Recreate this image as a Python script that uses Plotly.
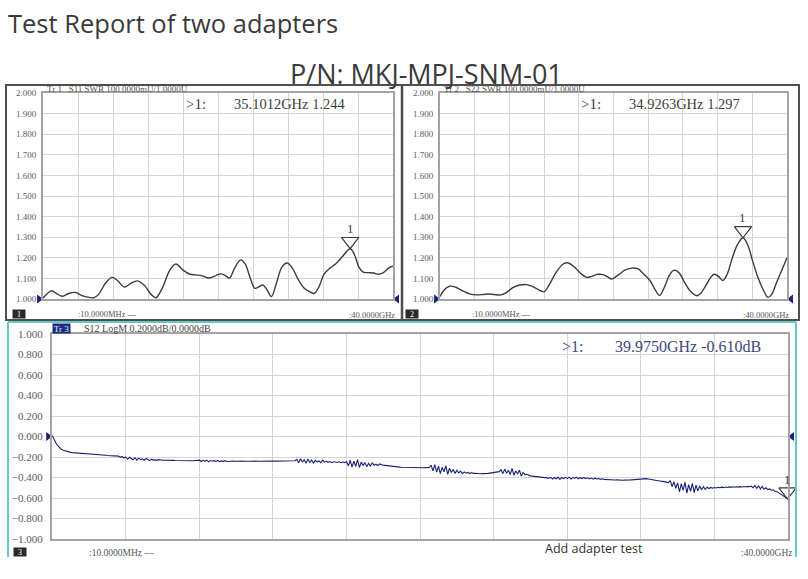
import numpy as np
import plotly.graph_objects as go

W, H = 808, 579

# ---------------- data ----------------
# Tr 1 : S11 SWR
s11_freq_ghz = [0.01, 0.6, 1.0, 1.6, 2.2, 3.0, 3.7, 4.4, 5.0, 5.8, 6.3, 7.2, 7.9, 8.5, 9.3, 10.0,
                10.8, 11.6, 12.4, 12.9, 13.6, 14.5, 15.2, 16.0, 16.8, 17.5, 18.2, 19.0, 19.8, 20.3,
                20.8, 21.3, 21.9, 22.6, 23.1, 23.7, 24.2, 24.7, 25.1, 25.6, 26.1, 26.7, 27.3, 27.9,
                28.5, 29.1, 29.8, 30.5, 31.0, 31.6, 32.1, 32.8, 33.5, 34.3, 35.1, 35.6, 36.1, 36.6,
                37.2, 37.8, 38.3, 38.9, 39.5, 40.0]
s11_swr = [1.005, 1.030, 1.040, 1.025, 1.013, 1.028, 1.032, 1.018, 1.010, 1.006, 1.020, 1.080,
           1.105, 1.090, 1.058, 1.075, 1.088, 1.065, 1.020, 1.006, 1.050, 1.140, 1.170, 1.140,
           1.120, 1.117, 1.112, 1.102, 1.115, 1.122, 1.115, 1.102, 1.150, 1.190, 1.170, 1.100,
           1.052, 1.060, 1.068, 1.045, 1.012, 1.080, 1.155, 1.175, 1.150, 1.100, 1.055, 1.035,
           1.027, 1.065, 1.120, 1.150, 1.172, 1.210, 1.244, 1.215, 1.155, 1.130, 1.128, 1.126,
           1.120, 1.128, 1.150, 1.160]

# Tr 2 : S22 SWR
s22_freq_ghz = [0.01, 0.5, 1.1, 1.8, 2.6, 3.4, 4.2, 5.0, 5.6, 6.2, 7.0, 7.6, 8.4, 9.2, 10.0, 10.8,
                11.6, 12.0, 12.6, 13.4, 14.2, 14.8, 15.5, 16.2, 16.9, 17.5, 18.2, 18.8, 19.4, 19.8,
                20.5, 21.3, 22.1, 22.8, 23.5, 24.2, 24.8, 25.3, 25.9, 26.5, 27.0, 27.6, 28.2, 28.9,
                29.6, 30.1, 30.7, 31.3, 31.6, 32.1, 32.6, 33.1, 33.7, 34.3, 34.93, 35.5, 36.0, 36.6,
                37.2, 37.8, 38.2, 38.8, 39.4, 40.0]
s22_swr = [1.012, 1.045, 1.062, 1.057, 1.040, 1.025, 1.020, 1.022, 1.024, 1.022, 1.020, 1.030,
           1.055, 1.068, 1.070, 1.058, 1.040, 1.035, 1.070, 1.130, 1.170, 1.175, 1.155, 1.125,
           1.105, 1.110, 1.120, 1.118, 1.105, 1.097, 1.115, 1.140, 1.150, 1.147, 1.120, 1.090,
           1.045, 1.017, 1.060, 1.120, 1.140, 1.125, 1.080, 1.036, 1.016, 1.030, 1.070, 1.110,
           1.120, 1.110, 1.090, 1.120, 1.200, 1.265, 1.297, 1.260, 1.190, 1.110, 1.050, 1.008,
           1.020, 1.080, 1.140, 1.200]

# Tr 3 : S12 LogM (dB), sweep 10 MHz .. 40 GHz, 401 points
s12_start_ghz = 0.01
s12_stop_ghz = 40.0
s12_db = [
    0.010, -0.030, -0.062, -0.090, -0.110, -0.124, -0.134, -0.141, -0.147, -0.151,
    -0.155, -0.157, -0.158, -0.160, -0.161, -0.163, -0.164, -0.165, -0.166, -0.168,
    -0.170, -0.171, -0.173, -0.174, -0.176, -0.177, -0.179, -0.180, -0.182, -0.183,
    -0.185, -0.187, -0.188, -0.190, -0.192, -0.196, -0.191, -0.203, -0.194, -0.210,
    -0.199, -0.222, -0.203, -0.214, -0.226, -0.207, -0.230, -0.212, -0.224, -0.219,
    -0.232, -0.215, -0.227, -0.236, -0.221, -0.230, -0.228, -0.233, -0.226, -0.231,
    -0.231, -0.232, -0.231, -0.233, -0.232, -0.234, -0.233, -0.234, -0.235, -0.234,
    -0.235, -0.234, -0.236, -0.235, -0.236, -0.235, -0.237, -0.236, -0.236, -0.237,
    -0.231, -0.244, -0.233, -0.242, -0.230, -0.246, -0.235, -0.241, -0.236, -0.243,
    -0.234, -0.245, -0.238, -0.242, -0.236, -0.244, -0.239, -0.241, -0.240, -0.242,
    -0.240, -0.241, -0.240, -0.242, -0.241, -0.240, -0.241, -0.242, -0.240, -0.241,
    -0.241, -0.240, -0.241, -0.240, -0.242, -0.241, -0.240, -0.241, -0.240, -0.240,
    -0.239, -0.240, -0.239, -0.238, -0.239, -0.238, -0.239, -0.238, -0.237, -0.238,
    -0.238, -0.237, -0.236, -0.222, -0.255, -0.218, -0.248, -0.226, -0.262, -0.220,
    -0.251, -0.229, -0.258, -0.233, -0.247, -0.238, -0.256, -0.231, -0.250, -0.242,
    -0.252, -0.244, -0.255, -0.246, -0.250, -0.253, -0.247, -0.256, -0.249, -0.255,
    -0.245, -0.286, -0.232, -0.298, -0.241, -0.290, -0.226, -0.302, -0.250, -0.284,
    -0.255, -0.296, -0.262, -0.288, -0.258, -0.280, -0.270, -0.283, -0.268, -0.278,
    -0.280, -0.282, -0.285, -0.287, -0.289, -0.292, -0.294, -0.296, -0.298, -0.299,
    -0.300, -0.301, -0.302, -0.303, -0.303, -0.304, -0.305, -0.305, -0.306, -0.306,
    -0.305, -0.306, -0.305, -0.304, -0.306, -0.303, -0.280, -0.335, -0.275, -0.348,
    -0.290, -0.362, -0.300, -0.345, -0.285, -0.370, -0.310, -0.352, -0.322, -0.360,
    -0.330, -0.356, -0.338, -0.362, -0.345, -0.358, -0.350, -0.361, -0.352, -0.360,
    -0.358, -0.362, -0.360, -0.364, -0.362, -0.363, -0.361, -0.360, -0.357, -0.354,
    -0.350, -0.348, -0.345, -0.343, -0.325, -0.362, -0.318, -0.358, -0.330, -0.372,
    -0.310, -0.378, -0.335, -0.366, -0.328, -0.385, -0.350, -0.372, -0.368, -0.380,
    -0.384, -0.387, -0.390, -0.392, -0.395, -0.397, -0.399, -0.401, -0.403, -0.404,
    -0.406, -0.398, -0.415, -0.400, -0.412, -0.396, -0.418, -0.402, -0.410, -0.399,
    -0.411, -0.397, -0.414, -0.401, -0.409, -0.396, -0.413, -0.402, -0.410, -0.400,
    -0.412, -0.403, -0.414, -0.405, -0.416, -0.407, -0.415, -0.410, -0.418, -0.412,
    -0.418, -0.420, -0.421, -0.423, -0.422, -0.424, -0.425, -0.423, -0.426, -0.425,
    -0.427, -0.426, -0.428, -0.427, -0.425, -0.423, -0.421, -0.419, -0.416, -0.414,
    -0.412, -0.410, -0.409, -0.411, -0.414, -0.418, -0.421, -0.425, -0.428, -0.431,
    -0.434, -0.436, -0.438, -0.442, -0.446, -0.450, -0.430, -0.488, -0.442, -0.505,
    -0.452, -0.540, -0.460, -0.525, -0.445, -0.552, -0.470, -0.535, -0.458, -0.548,
    -0.475, -0.530, -0.482, -0.520, -0.490, -0.515, -0.495, -0.508, -0.497, -0.505,
    -0.498, -0.502, -0.496, -0.500, -0.494, -0.499, -0.493, -0.497, -0.492, -0.496,
    -0.491, -0.495, -0.490, -0.494, -0.489, -0.493, -0.488, -0.492, -0.487, -0.490,
    -0.484, -0.500, -0.478, -0.505, -0.482, -0.510, -0.488, -0.515, -0.500, -0.518,
    -0.512, -0.524, -0.520, -0.535, -0.538, -0.550, -0.556, -0.570, -0.578, -0.595,
    -0.610]
s12_freq_ghz = np.linspace(s12_start_ghz, s12_stop_ghz, len(s12_db))

# markers (frequency GHz, value)
marker1 = (35.1012, 1.244)
marker2 = (34.9263, 1.297)
marker3 = (39.9750, -0.610)
marker1_text = "35.1012GHz 1.244"
marker2_text = "34.9263GHz 1.297"
marker3_text = "39.9750GHz -0.610dB"

# ---------------- helpers for layout (pixel -> paper) ----------------
def px(x):
    return x / W

def py(y):
    return 1 - y / H

SERIF = "Liberation Serif"
GRID = "#d5d5d5"
FRAME = "#a3a3a3"
TRACE_GRAY = "#3c3c3c"
NAVY = "#1a2278"

fig = go.Figure()

fig.add_trace(go.Scatter(x=s11_freq_ghz, y=s11_swr, mode="lines", xaxis="x", yaxis="y",
                         line=dict(color=TRACE_GRAY, width=1.4, shape="spline", smoothing=1.0)))
fig.add_trace(go.Scatter(x=s22_freq_ghz, y=s22_swr, mode="lines", xaxis="x2", yaxis="y2",
                         line=dict(color=TRACE_GRAY, width=1.4, shape="spline", smoothing=1.0)))
fig.add_trace(go.Scatter(x=s12_freq_ghz, y=s12_db, mode="lines", xaxis="x3", yaxis="y3",
                         line=dict(color=NAVY, width=1.1)))

# marker triangles: downward-pointing, tip on the data point (standoff pushes them up)
for (mx, my), xa, ya in [(marker1, "x", "y"), (marker2, "x2", "y2"), (marker3, "x3", "y3")]:
    fig.add_trace(go.Scatter(x=[mx], y=[my], mode="markers", xaxis=xa, yaxis=ya, cliponaxis=False,
                             marker=dict(symbol="triangle-up-open", size=15, angle=180, standoff=7.5,
                                         color="#3a3a3a", line=dict(width=1.2, color="#3a3a3a"))))

# edge reference arrows (left: pointing right, right: pointing left, both outside the grid)
ref_sets = [("x", "y", 0.01, 40.0, 1.0), ("x2", "y2", 0.01, 40.0, 1.0), ("x3", "y3", 0.01, 40.0, 0.0)]
for xa, ya, f0, f1, ref in ref_sets:
    fig.add_trace(go.Scatter(x=[f0], y=[ref], mode="markers", xaxis=xa, yaxis=ya, cliponaxis=False,
                             marker=dict(symbol="triangle-up", size=8, angle=90, standoff=4,
                                         color=NAVY)))
    fig.add_trace(go.Scatter(x=[f1], y=[ref], mode="markers", xaxis=xa, yaxis=ya, cliponaxis=False,
                             marker=dict(symbol="triangle-up", size=8, angle=270, standoff=4,
                                         color=NAVY)))

def xaxis_cfg(x0, x1, anchor):
    return dict(domain=[px(x0), px(x1)], range=[0, 40], dtick=4, tick0=0, anchor=anchor,
                showgrid=True, gridcolor=GRID, gridwidth=1, zeroline=False,
                showticklabels=False, ticks="", showline=True, mirror=True,
                linecolor=FRAME, linewidth=2, fixedrange=True, automargin=False)

def yaxis_cfg(y0, y1, rng, dt, anchor, fsize, standoff):
    return dict(domain=[py(y1), py(y0)], range=rng, dtick=dt, tick0=0, anchor=anchor,
                showgrid=True, gridcolor=GRID, gridwidth=1, zeroline=False,
                tickformat=".3f", ticks="", ticklabelstandoff=standoff,
                tickfont=dict(family=SERIF, size=fsize, color="#5a5a5a"),
                showline=True, mirror=True, linecolor=FRAME, linewidth=2, fixedrange=True,
                automargin=False)

layout = dict(
    width=W, height=H, margin=dict(l=0, r=0, t=0, b=0, pad=0),
    paper_bgcolor="white", plot_bgcolor="white", showlegend=False,
    xaxis=xaxis_cfg(43, 393, "y"),
    yaxis=yaxis_cfg(93, 299, [1, 2], 0.1, "x", 9, 3),
    xaxis2=xaxis_cfg(440, 787, "y2"),
    yaxis2=yaxis_cfg(93, 299, [1, 2], 0.1, "x2", 9, 3),
    xaxis3=xaxis_cfg(52, 788, "y3"),
    yaxis3=yaxis_cfg(334, 539, [-1, 1], 0.2, "x3", 11, 5),
)
fig.update_layout(**layout)

shapes = []
DARK = "#4e4e4e"
shapes.append(dict(type="rect", xref="paper", yref="paper", x0=px(6), x1=px(799), y0=py(320), y1=py(85),
                   line=dict(color=DARK, width=2)))
shapes.append(dict(type="line", xref="paper", yref="paper", x0=px(402), x1=px(402), y0=py(320), y1=py(85),
                   line=dict(color=DARK, width=2.5)))
CYAN = "#62c8c8"
for (a, b, c, d) in [(8, 322, 796, 322), (8, 322, 8, 557), (796, 322, 796, 557)]:
    shapes.append(dict(type="line", xref="paper", yref="paper", x0=px(a), x1=px(c), y0=py(b), y1=py(d),
                       line=dict(color=CYAN, width=2)))
fig.update_layout(shapes=shapes)

ann = []

def text(x, y, s, size, color="#444444", family=SERIF, xanchor="left", yanchor="middle", **kw):
    d = dict(xref="paper", yref="paper", x=px(x), y=py(y), text=s, showarrow=False,
             xanchor=xanchor, yanchor=yanchor, font=dict(family=family, size=size, color=color))
    d.update(kw)
    ann.append(d)

# titles
text(6, 23, "Test Report of two adapters", 25.5, color="#3a3a3a", family="Open Sans")
text(426, 74, "P/N: MKJ-MPJ-SNM-01", 27, color="#3a3a3a", family="Open Sans", xanchor="center")
text(594, 548, "Add adapter test", 12.5, color="#333333", family="Open Sans", xanchor="center")

# trace headers
text(45, 89, "Tr 1   S11 SWR 100.0000mU/1.0000U", 9, color="#555555")
text(442, 89, "Tr 2   S22 SWR 100.0000mU/1.0000U", 9, color="#555555")
text(61.5, 329, "Tr 3", 9, color="#e6ebff", xanchor="center", bgcolor="#1f2c7c", width=17, height=9,
     borderpad=0)
text(82, 329, "S12 LogM 0.2000dB/0.0000dB", 10, color="#444444")

# marker readouts
text(184, 104, "&gt;1:", 15, color="#404040")
text(232, 104, marker1_text, 14.5, color="#404040")
text(579, 104, "&gt;1:", 15, color="#404040")
text(627, 104, marker2_text, 14.5, color="#404040")
text(560, 346, "&gt;1:", 16, color="#414780")
text(613, 346, marker3_text, 16, color="#414780")

# channel boxes and sweep labels
for cx, cy, lab in [(18.5, 314, "1"), (412.5, 314, "2"), (19.5, 552, "3")]:
    text(cx, cy, lab, 8, color="white", xanchor="center", bgcolor="#2a2a2a", width=12, height=8, borderpad=0)
text(76, 314, ":10.0000MHz \u2014", 8.5, color="#555555")
text(397, 315, ":40.0000GHz", 8.5, color="#555555", xanchor="right")
text(470, 314, ":10.0000MHz \u2014", 8.5, color="#555555")
text(791, 315, ":40.0000GHz", 8.5, color="#555555", xanchor="right")
text(87, 553, ":10.0000MHz \u2014", 9.5, color="#555555")
text(794, 553, ":40.0000GHz", 9.5, color="#555555", xanchor="right")

# marker number labels
for (mx, my), xa, ya in [(marker1, "x", "y"), (marker2, "x2", "y2"), (marker3, "x3", "y3")]:
    ann.append(dict(xref=xa, yref=ya, x=mx, y=my, text="1", showarrow=False, yshift=20,
                    font=dict(family=SERIF, size=13, color="#404040")))

fig.update_layout(annotations=ann)

page_fix = ("document.documentElement.style.margin='0';document.body.style.margin='0';"
            "document.body.style.padding='0';document.documentElement.style.overflow='hidden';"
            "document.body.style.overflow='hidden';")
fig.write_html("out.html", post_script=page_fix, config={"displayModeBar": False, "staticPlot": True})
